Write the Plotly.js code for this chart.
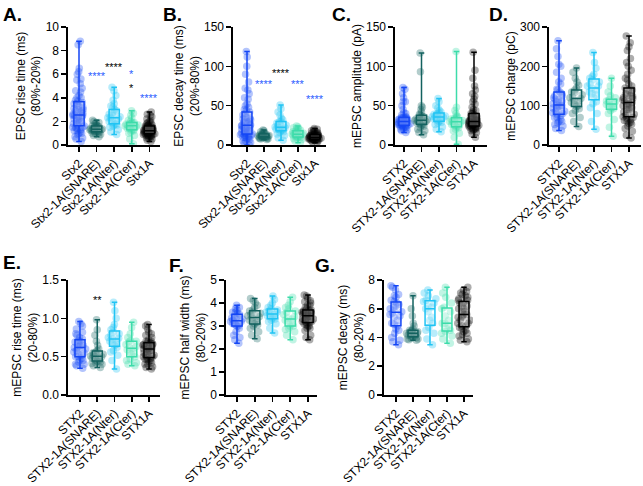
<!DOCTYPE html>
<html><head><meta charset="utf-8">
<script src="https://cdn.plot.ly/plotly-3.0.1.min.js"></script>
<style>html,body{margin:0;padding:0;background:#fff}#chart{width:643px;height:486px}</style>
</head><body><div id="chart"></div>
<script>
// ---------- DATA ----------
const groupsEPSC = ["Stx2", "Stx2-1A(SNARE)", "Stx2-1A(Nter)", "Stx2-1A(Cter)", "Stx1A"];
const groupsMini = ["STX2", "STX2-1A(SNARE)", "STX2-1A(Nter)", "STX2-1A(Cter)", "STX1A"];
const groupColors = ["#1446f5", "#13625f", "#20c4f4", "#3ddcaa", "#000000"];

// A. EPSC rise time (ms)
const epscRiseStx2 = [0.3,0.5,0.7,0.9,1.0,1.1,1.2,1.3,1.4,1.5,1.5,1.6,1.8,1.9,2.0,2.1,2.2,2.3,2.4,2.5,2.5,2.6,2.7,2.8,2.9,3.0,3.1,3.3,3.4,3.5,3.7,3.8,4.0,4.2,4.5,4.8,5.2,5.6,6.0,6.5,8.5,8.8,
  1.0,1.5,2.0,2.5,3.0,3.5,2.2,2.8,1.8,3.2,4.0,4.6,5.5,6.2,0.6,1.2,1.7,2.4,2.9,3.6];
const epscRiseSnare = [0.7,0.8,0.9,1.0,1.0,1.05,1.1,1.1,1.2,1.2,1.25,1.3,1.3,1.35,1.4,1.45,1.5,1.55,1.6,1.6,1.7,1.8,1.9,2.0,2.1,1.15,1.3,1.4,1.6,1.9];
const epscRiseNter = [0.9,1.1,1.3,1.5,1.6,1.7,1.8,1.9,2.0,2.1,2.2,2.2,2.3,2.4,2.5,2.6,2.8,2.9,3.0,3.2,3.5,3.8,4.2,4.6,4.9,1.7,2.3,2.7,3.3];
const epscRiseCter = [0.1,0.5,0.8,1.0,1.1,1.2,1.25,1.3,1.4,1.5,1.5,1.55,1.6,1.65,1.7,1.75,1.8,1.85,1.9,2.0,2.1,2.3,2.5,2.7,2.9,1.4,1.7,1.9];
const epscRiseStx1A = [0.3,0.4,0.5,0.6,0.7,0.75,0.8,0.85,0.9,0.9,0.95,1.0,1.0,1.05,1.1,1.1,1.15,1.2,1.2,1.25,1.3,1.3,1.35,1.4,1.45,1.5,1.55,1.6,1.65,1.7,1.8,1.9,2.0,2.2,2.4,2.6,2.8,
  0.6,0.8,0.9,1.0,1.1,1.2,1.3,1.4,1.5,1.0,1.2,0.7,1.6,1.9,2.5,1.1,1.3,0.95,1.7,2.1];

// B. EPSC decay time (ms)
const epscDecayStx2 = [0,2,3,5,7,9,10,11,12,13,14,15,16,17,18,19,20,21,22,24,25,26,28,29,30,32,34,36,38,42,45,48,52,58,65,72,80,90,100,112,119,
  10,15,20,25,30,35,40,18,22,28,50,60,12,8,5,14,23,33,44,70];
const epscDecaySnare = [7,7.5,8,8.5,9,9,9.5,10,10,10.5,11,11,11.5,12,12,13,13.5,14,15,16,17,18,19,10,12,14];
const epscDecayNter = [6,9,12,14,16,17,18,19,20,21,22,22,23,24,26,28,30,32,34,38,42,46,51,20,25,30];
const epscDecayCter = [3,5,7,8,9,9.5,10,11,12,12.5,13,13.5,14,15,16,17,18,19,20,21,22,23,24,11,15,18];
const epscDecayStx1A = [3,4,5,5.5,6,6.5,7,7,7.5,8,8.5,9,9.5,10,10,10.5,11,11.5,12,12.5,13,14,15,16,17,18,19,20,21,
  6,7,8,9,10,11,12,8,9,10,13,15,17,11,9,7.5,12.5,14];

// C. mEPSC amplitude (pA)
const mAmpStx2 = [16,18,19,20,21,22,23,24,25,25,26,27,27,28,28,29,29,30,30,31,32,33,34,34,35,35,36,38,41,45,50,55,60,65,71,
  25,28,30,32,26,29,31,22,35,40,55,24,27,33,73];
const mAmpSnare = [13,16,18,20,22,24,25,26,27,28,29,30,31,31,32,33,34,35,36,37,39,42,45,48,50,93,117,28,33,38];
const mAmpNter = [17,20,23,26,28,29,30,32,33,34,35,35,36,37,38,40,41,42,44,47,50,55,59,31,36,39];
const mAmpCter = [1,10,15,18,20,22,23,24,26,27,28,29,30,31,32,33,34,35,37,40,44,48,119,25,30,36];
const mAmpStx1A = [10,14,16,18,19,20,21,22,23,23,24,25,26,27,27,28,28,29,30,31,32,33,34,35,36,37,38,40,42,45,48,52,58,65,75,85,95,118,
  22,24,26,28,30,25,27,29,33,36,20,31,40,55,70,21,26,32,44,62];

// D. mEPSC charge (pC)
const mChargeStx2 = [37,42,48,52,56,60,65,70,75,78,82,86,90,94,98,100,102,105,108,112,116,120,125,130,135,142,155,170,185,205,225,245,265,
  70,85,95,110,125,60,100,140,80,115,160,200];
const mChargeSnare = [47,60,70,80,88,92,98,104,108,112,114,118,122,128,134,140,145,152,160,170,185,196,100,120,135];
const mChargeNter = [40,60,80,95,105,110,120,128,135,140,145,150,155,160,165,170,180,195,210,235,130,150,175];
const mChargeCter = [22,45,65,80,88,92,96,100,103,106,110,115,120,125,135,150,170,95,105,112];
const mChargeStx1A = [18,25,35,42,48,53,58,62,64,68,72,78,84,90,95,100,104,108,112,118,124,128,133,139,145,155,165,180,200,220,240,260,277,
  60,80,100,120,140,70,90,110,130,150,95,105,115,170,210,55,75,125,190,250];

// E. mEPSC rise time (ms)
const mRiseStx2 = [0.35,0.38,0.4,0.43,0.46,0.48,0.5,0.52,0.54,0.56,0.58,0.6,0.62,0.63,0.65,0.67,0.69,0.71,0.73,0.75,0.78,0.82,0.86,0.9,0.96,
  0.45,0.55,0.6,0.64,0.7,0.5,0.66,0.8,0.93,0.4];
const mRiseSnare = [0.36,0.38,0.4,0.41,0.42,0.43,0.44,0.46,0.48,0.49,0.5,0.51,0.52,0.53,0.55,0.56,0.58,0.6,0.65,0.7,0.78,0.85,0.98,0.45,0.5,0.54];
const mRiseNter = [0.34,0.45,0.52,0.56,0.58,0.62,0.65,0.68,0.7,0.71,0.73,0.75,0.78,0.8,0.82,0.85,0.92,1.0,1.1,1.21,0.66,0.74,0.88];
const mRiseCter = [0.38,0.4,0.42,0.45,0.47,0.5,0.53,0.56,0.59,0.61,0.63,0.66,0.69,0.71,0.75,0.8,0.88,0.95,0.55,0.62,0.7];
const mRiseStx1A = [0.34,0.37,0.4,0.42,0.44,0.46,0.48,0.49,0.5,0.52,0.54,0.56,0.58,0.6,0.61,0.62,0.63,0.64,0.66,0.67,0.68,0.7,0.72,0.75,0.78,0.82,0.86,0.9,
  0.45,0.5,0.55,0.6,0.65,0.7,0.58,0.62,0.52,0.66,0.4,0.8,0.36,0.47,0.57,0.69,0.92];

// F. mEPSC half width (ms)
const mHalfStx2 = [2.25,2.4,2.6,2.75,2.9,3.0,3.05,3.1,3.15,3.2,3.25,3.3,3.35,3.4,3.5,3.55,3.6,3.7,3.8,3.9,3.0,3.2,3.4,3.6,3.1,3.3,2.5,3.75];
const mHalfSnare = [2.45,2.6,2.75,2.9,3.0,3.05,3.1,3.2,3.25,3.3,3.35,3.4,3.5,3.55,3.6,3.7,3.8,3.9,4.0,4.2,3.15,3.45,3.65,4.1];
const mHalfNter = [2.7,2.9,3.1,3.2,3.25,3.3,3.35,3.4,3.45,3.5,3.55,3.6,3.65,3.7,3.8,3.9,4.0,4.15,4.3,3.45,3.6,3.75];
const mHalfCter = [2.4,2.6,2.75,2.85,2.9,3.0,3.1,3.2,3.25,3.3,3.4,3.5,3.6,3.65,3.75,3.9,4.05,4.25,3.0,3.35,3.8];
const mHalfStx1A = [2.4,2.6,2.8,2.9,3.0,3.05,3.1,3.15,3.2,3.25,3.3,3.35,3.4,3.45,3.5,3.5,3.55,3.6,3.6,3.65,3.7,3.8,3.9,4.0,4.1,4.2,4.35,
  3.2,3.3,3.4,3.5,3.6,3.3,3.45,3.55,3.0,3.7,2.9,3.9,2.5,3.15,3.75,4.05,4.3];

// G. mEPSC decay (ms)
const mDecayStx2 = [3.5,3.8,4.0,4.3,4.6,4.8,5.0,5.2,5.4,5.6,5.8,5.9,6.0,6.1,6.3,6.5,6.6,6.8,7.0,7.3,7.6,4.5,5.5,6.2,6.9,7.5,4.9,5.7,6.4,3.7];
const mDecaySnare = [3.8,3.85,3.9,3.95,4.0,4.05,4.1,4.15,4.2,4.25,4.3,4.35,4.4,4.45,4.5,4.6,4.8,5.0,5.5,6.0,6.9,4.1,4.3,4.5,3.9];
const mDecayNter = [3.5,3.9,4.3,4.5,4.7,5.0,5.4,5.8,6.0,6.2,6.4,6.6,6.7,6.9,7.1,7.3,5.2,6.1,6.5];
const mDecayCter = [3.6,3.9,4.1,4.3,4.4,4.6,4.8,5.0,5.2,5.5,5.8,6.1,6.4,6.8,7.1,7.5,4.5,5.0,6.0];
const mDecayStx1A = [3.7,3.9,4.1,4.3,4.5,4.6,4.8,5.0,5.2,5.4,5.5,5.6,5.8,6.0,6.2,6.4,6.6,6.7,6.9,7.1,7.3,7.5,
  4.4,4.8,5.2,5.6,6.0,6.4,6.8,7.2,5.0,5.8,6.6,4.2,3.8,4.7,5.4,6.2,7.0];

// ---------- LAYOUT ----------
const W = 643, H = 486;
const FONT = "Liberation Sans, Arial, Helvetica, sans-serif";
const panels = [
  {lab:"A.", labX:1, labY:2, cats:groupsEPSC, data:[epscRiseStx2,epscRiseSnare,epscRiseNter,epscRiseCter,epscRiseStx1A], title:"EPSC rise time (ms)<br>(80%-20%)", ymax:10, dtick:2, fmt:"", left:68, first:79, sp:17.6, right:160, top:27, bot:145},
  {lab:"B.", labX:161, labY:2, cats:groupsEPSC, data:[epscDecayStx2,epscDecaySnare,epscDecayNter,epscDecayCter,epscDecayStx1A], title:"EPSC decay time (ms)<br>(20%-80%)", ymax:150, dtick:50, fmt:"", left:233, first:247, sp:17, right:326, top:27, bot:145},
  {lab:"C.", labX:330, labY:2, cats:groupsMini, data:[mAmpStx2,mAmpSnare,mAmpNter,mAmpCter,mAmpStx1A], title:"mEPSC amplitude (pA)", ymax:150, dtick:50, fmt:"", left:395, first:404, sp:17.5, right:487, top:27, bot:145},
  {lab:"D.", labX:487, labY:2, cats:groupsMini, data:[mChargeStx2,mChargeSnare,mChargeNter,mChargeCter,mChargeStx1A], title:"mEPSC charge (pC)", ymax:300, dtick:100, fmt:"", left:549, first:559, sp:17.5, right:641, top:27, bot:145},
  {lab:"E.", labX:1, labY:250, cats:groupsMini, data:[mRiseStx2,mRiseSnare,mRiseNter,mRiseCter,mRiseStx1A], title:"mEPSC rise time (ms)<br>(20-80%)", ymax:1.5, dtick:0.5, fmt:".1f", left:68, first:80, sp:17.25, right:160, top:280, bot:395},
  {lab:"F.", labX:167, labY:253, cats:groupsMini, data:[mHalfStx2,mHalfSnare,mHalfNter,mHalfCter,mHalfStx1A], title:"mEPSC half width (ms)<br>(80-20%)", ymax:5, dtick:1, fmt:"", left:226, first:237, sp:17.75, right:317, top:280, bot:395},
  {lab:"G.", labX:313, labY:253, cats:groupsMini, data:[mDecayStx2,mDecaySnare,mDecayNter,mDecayCter,mDecayStx1A], title:"mEPSC decay (ms)<br>(80-20%)", ymax:8, dtick:2, fmt:"", left:384, first:396, sp:17, right:473, top:280, bot:395}
];

// significance marks: [panelIndex, categoryIndex, yValue, text]
const sigMarks = [
  [0,1,5.85,"<span style='color:#2a5cff'>****</span>"],
  [0,2,6.6,"****"],
  [0,3,5.45,"<span style='color:#2a5cff'>*</span><br>*"],
  [0,4,3.95,"<span style='color:#2a5cff'>****</span>"],
  [1,1,78,"<span style='color:#2a5cff'>****</span>"],
  [1,2,92,"****"],
  [1,3,78,"<span style='color:#2a5cff'>***</span>"],
  [1,4,59,"<span style='color:#2a5cff'>****</span>"],
  [4,1,1.24,"**"]
];

function quant(arr, p){
  const s = arr.slice().sort((a,b)=>a-b);
  const idx = (s.length-1)*p, lo = Math.floor(idx), hi = Math.ceil(idx);
  return s[lo] + (s[hi]-s[lo])*(idx-lo);
}
function rgba(hex, a){
  const v = parseInt(hex.slice(1),16);
  return `rgba(${(v>>16)&255},${(v>>8)&255},${v&255},${a})`;
}

const traces = [];
const layout = {
  width: W, height: H, margin:{l:0,r:0,t:0,b:0},
  paper_bgcolor:"#fff", plot_bgcolor:"rgba(0,0,0,0)",
  showlegend:false, boxmode:"overlay",
  font:{family:FONT, color:"#000", size:12},
  annotations:[]
};

panels.forEach((P, i) => {
  const n = i+1;
  const xa = "x"+(n===1?"":n), ya = "y"+(n===1?"":n);
  const xk = "xaxis"+(n===1?"":n), yk = "yaxis"+(n===1?"":n);
  layout[xk] = {
    domain:[P.left/W, P.right/W], anchor:ya, type:"category",
    categoryorder:"array", categoryarray:P.cats,
    range:[-(P.first-P.left)/P.sp, (P.right-P.first)/P.sp],
    showline:true, linewidth:1.6, linecolor:"#000", ticks:"outside", ticklen:5, tickwidth:1.6, tickcolor:"#000",
    tickangle:-45, tickfont:{size:12, family:FONT}, showgrid:false, zeroline:false, fixedrange:true
  };
  layout[yk] = {
    domain:[1-P.bot/H, 1-P.top/H], anchor:xa, range:[0, P.ymax], dtick:P.dtick, tick0:0, tickformat:P.fmt,
    showline:true, linewidth:1.6, linecolor:"#000", ticks:"outside", ticklen:5, tickwidth:1.6, tickcolor:"#000",
    tickfont:{size:12, family:FONT}, showgrid:false, zeroline:false,
    title:{text:P.title, font:{size:12, family:FONT}, standoff:2}
  };
  P.cats.forEach((c, k) => {
    const d = P.data[k], col = groupColors[k];
    // jittered points
    traces.push({
      type:"box", xaxis:xa, yaxis:ya, x:d.map(()=>c), y:d,
      boxpoints:"all", jitter:1, pointpos:0, width:0.8,
      line:{width:0, color:"rgba(0,0,0,0)"}, fillcolor:"rgba(0,0,0,0)",
      marker:{color:rgba(col,0.32), size:7.5, line:{width:0}},
      hoverinfo:"y"
    });
    // box: quartiles, whiskers from min to max
    traces.push({
      type:"box", xaxis:xa, yaxis:ya, orientation:"v", x:[c],
      q1:[quant(d,0.25)], median:[quant(d,0.5)], q3:[quant(d,0.75)],
      lowerfence:[Math.min(...d)], upperfence:[Math.max(...d)],
      boxpoints:false, width:0.58, whiskerwidth:0.55,
      line:{width:1.5, color:col}, fillcolor:"rgba(255,255,255,0.25)"
    });
  });
  layout.annotations.push({
    xref:"paper", yref:"paper", x:P.labX/W, y:1-P.labY/H, xanchor:"left", yanchor:"top",
    text:"<b>"+P.lab+"</b>", showarrow:false, font:{size:19, family:FONT, color:"#000"}
  });
});

sigMarks.forEach(m => {
  const P = panels[m[0]], n = m[0]+1;
  layout.annotations.push({
    xref:"x"+(n===1?"":n), yref:"y"+(n===1?"":n), x:P.cats[m[1]], y:m[2],
    text:m[3], showarrow:false, font:{size:11, family:FONT, color:"#000"}, yanchor:"middle"
  });
});

Plotly.newPlot("chart", traces, layout, {staticPlot:true, displayModeBar:false});
</script>
</body></html>
